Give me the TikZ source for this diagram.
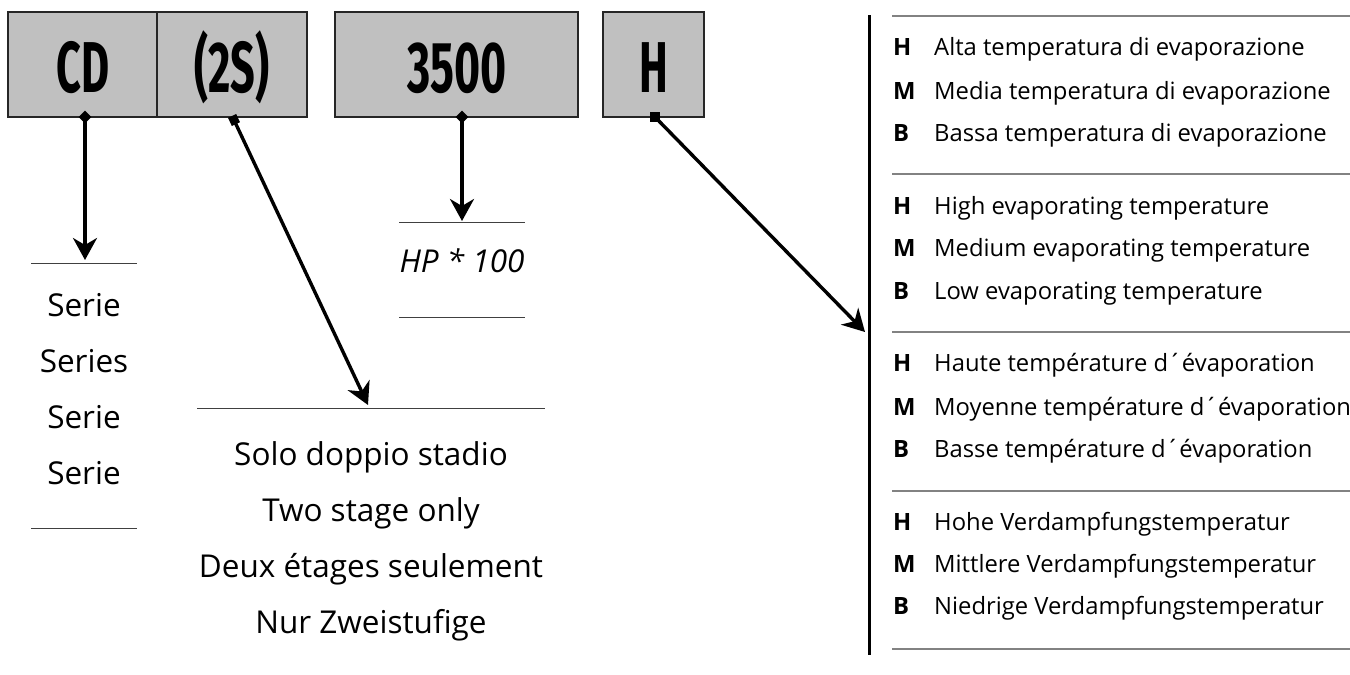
\documentclass[tikz,border=0pt]{standalone}
\usepackage{fontspec}
\setmainfont{Open Sans}
\newfontfamily\boxfont{Fira Sans}
\usetikzlibrary{arrows.meta}
\definecolor{boxgray}{RGB}{192,192,192}
\definecolor{sepgray}{RGB}{130,130,130}
\begin{document}
\begin{tikzpicture}[x=1pt,y=-1pt,
  codebox/.style={draw=black!85, line width=1.4pt, fill=boxgray, inner sep=0pt, minimum height=105pt},
  codetxt/.style={inner sep=0pt, anchor=base, font=\boxfont\bfseries\fontsize{72}{72}\selectfont},
  mark/.style={fill=black, inner sep=0pt, minimum size=#1},
  arr/.style={line width=3.4pt, -{Stealth[length=22pt, width=24pt, inset=7pt]}},
  uline/.style={line width=1pt, draw=black!75},
  sepline/.style={line width=1.1pt, draw=sepgray},
  bigtxt/.style={inner sep=0pt, anchor=base, font=\fontsize{31.5}{31.5}\selectfont},
  key/.style={inner sep=0pt, anchor=base west, font=\bfseries\fontsize{23.8}{23.8}\selectfont},
  desc/.style={inner sep=0pt, anchor=base west, font=\fontsize{23.8}{23.8}\selectfont}]
\useasboundingbox (0,0) rectangle (1350,675);

% code boxes
\node[codebox, minimum width=149pt] (bcd) at (82.5,64.5) {};
\node[codebox, minimum width=150pt] (b2s) at (232,64.5) {};
\node[codebox, minimum width=243pt] (b35) at (456.5,64.5) {};
\node[codebox, minimum width=101pt] (bh) at (653.5,64.5) {};
\node[codetxt] (tcd) at (83,92) {\scalebox{0.6}[1]{CD}};
\node[codetxt] (t2s) at (232,92) {\scalebox{0.6}[1]{(2S)}};
\node[codetxt] (t35) at (457,92) {\scalebox{0.62}[1]{3500}};
\node[codetxt] (th) at (654,92) {\scalebox{0.6}[1]{H}};

% markers
\node[mark=9pt, rotate=45] (mcd) at (85,117) {};
\node[mark=9pt, rotate=25] (m2s) at (234,120) {};
\node[mark=9pt, rotate=45] (m35) at (462,117) {};
\node[mark=10pt] (mh) at (655,117) {};

% arrow targets
\coordinate (acd) at (85,260);
\coordinate (a2s) at (368,405);
\coordinate (a35) at (462,221);
\coordinate (ah) at (865,332);

\draw[arr] (mcd.center) -- (acd);
\draw[arr] (m2s.center) -- (a2s);
\draw[arr] (m35.center) -- (a35);
\draw[arr] (mh.center) -- (ah);

% left list (Serie)
\coordinate (lcdA) at (31,263); \coordinate (lcdB) at (137,263);
\coordinate (lcdC) at (31,528); \coordinate (lcdD) at (137,528);
\draw[uline] (lcdA) -- (lcdB);
\draw[uline] (lcdC) -- (lcdD);
\node[bigtxt] (s1) at (84,316) {Serie};
\node[bigtxt] (s2) at (84,372) {Series};
\node[bigtxt] (s3) at (84,428) {Serie};
\node[bigtxt] (s4) at (84,484) {Serie};

% HP list
\coordinate (lhA) at (399,222); \coordinate (lhB) at (525,222);
\coordinate (lhC) at (399,317); \coordinate (lhD) at (525,317);
\draw[uline] (lhA) -- (lhB);
\draw[uline] (lhC) -- (lhD);
\node[bigtxt, font=\itshape\fontsize{31.5}{31.5}\selectfont] (hp) at (462,272) {HP * 100};

% two-stage list
\coordinate (l2A) at (197,408); \coordinate (l2B) at (545,408);
\draw[uline] (l2A) -- (l2B);
\node[bigtxt] (w1) at (371,465) {Solo doppio stadio};
\node[bigtxt] (w2) at (371,521) {Two stage only};
\node[bigtxt] (w3) at (371,577) {Deux étages seulement};
\node[bigtxt] (w4) at (371,633) {Nur Zweistufige};

% right panel
\coordinate (vt) at (869,15); \coordinate (vb) at (869,655);
\draw[line width=3pt] (vt) -- (vb);
\foreach \y [count=\i] in {16,174,332,491,649}{
  \coordinate (sa\i) at (892,\y); \coordinate (sb\i) at (1350,\y);
  \draw[sepline] (sa\i) -- (sb\i);
}
\foreach \y/\l/\t [count=\i] in {
  55/H/Alta temperatura di evaporazione,
  99/M/Media temperatura di evaporazione,
  141/B/Bassa temperatura di evaporazione,
  214/H/High evaporating temperature,
  256/M/Medium evaporating temperature,
  299/B/Low evaporating temperature,
  371/H/Haute température d´évaporation,
  415/M/Moyenne température d´évaporation,
  457/B/Basse température d´évaporation,
  530/H/Hohe Verdampfungstemperatur,
  572/M/Mittlere Verdampfungstemperatur,
  614/B/Niedrige Verdampfungstemperatur}{
  \node[key] (k\i) at (893,\y) {\l};
  \node[desc] (d\i) at (934,\y) {\t};
}
\end{tikzpicture}
\end{document}
